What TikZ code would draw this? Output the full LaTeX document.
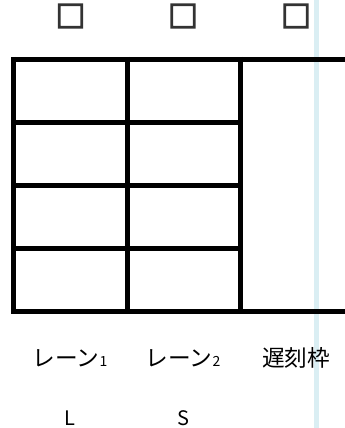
\documentclass[tikz,border=0pt]{standalone}
\usepackage{fontspec}
\setmainfont{Noto Sans CJK JP}
\newfontfamily\boxfont[FakeBold=6]{Noto Sans CJK JP}
\usepackage{tikz}
\definecolor{laneblue}{HTML}{DAEEF3}
\tikzset{
  gridline/.style={line width=3.75pt,black},
  guide/.style={line width=3.75pt,laneblue},
  headbox/.style={font=\boxfont\fontsize{22}{22}\selectfont,inner sep=0pt,text=black!80},
  lanetext/.style={font=\fontsize{17}{17}\selectfont,inner sep=0pt,anchor=base},
  latintext/.style={font=\fontsize{15}{15}\selectfont,inner sep=0pt,anchor=base}
}
\newcommand{\lanenum}[1]{{\fontsize{10.5}{10.5}\selectfont #1}}

\begin{document}
\begin{tikzpicture}[x=0.75pt,y=-0.75pt]
\useasboundingbox (0,0) rectangle (345,428);
% light guide behind the frame
\draw[guide] (316.5,0) -- (316.5,428);
% frame
\draw[gridline] (11,59.5) -- (345,59.5);
\draw[gridline] (11,311.5) -- (345,311.5);
\foreach \y in {122.5,185.5,248.5}
  \draw[gridline] (11,\y) -- (243,\y);
\foreach \x in {13.5,127,240}
  \draw[gridline] (\x,57) -- (\x,314);
% header marks
\node[headbox] (box1) at (70.5,16) {□};
\node[headbox] (box2) at (183,16) {□};
\node[headbox] (box3) at (296,16) {□};
% lane names
\node[lanetext] (lane1) at (70,366) {レーン\lanenum{1}};
\node[lanetext] (lane2) at (183,366) {レーン\lanenum{2}};
\node[lanetext] (late) at (296,366) {遅刻枠};
\node[latintext] (laneL) at (70,425) {L};
\node[latintext] (laneS) at (183,425) {S};
\end{tikzpicture}
\end{document}
